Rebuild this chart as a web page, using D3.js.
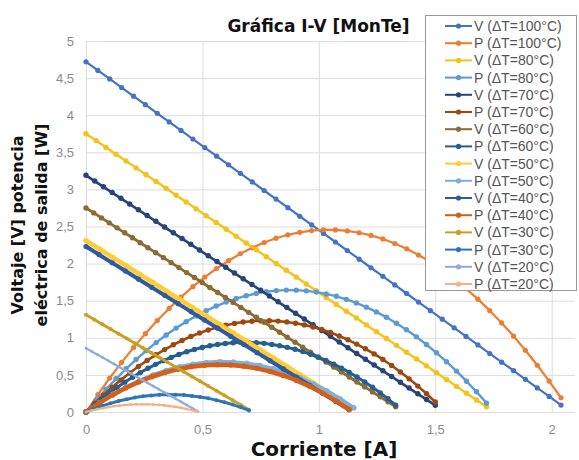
<!DOCTYPE html>
<html><head><meta charset="utf-8">
<script src="https://cdn.jsdelivr.net/npm/d3@7/dist/d3.min.js"></script>
<style>body{margin:0;background:#fff}svg{display:block}</style>
</head><body>
<svg id="chart" width="579" height="460"></svg>
<script>
// ---------- DATA ----------
const I100=[0,0.051,0.102,0.153,0.204,0.255,0.306,0.357,0.408,0.459,0.510,0.561,0.612,0.663,0.714,0.765,0.816,0.867,0.918,0.969,1.020,1.071,1.122,1.173,1.224,1.275,1.326,1.377,1.428,1.479,1.530,1.581,1.632,1.683,1.734,1.785,1.836,1.887,1.938,1.989,2.040];
const V100=[4.720,4.604,4.489,4.373,4.257,4.142,4.026,3.910,3.795,3.679,3.564,3.448,3.332,3.217,3.101,2.985,2.870,2.754,2.638,2.523,2.407,2.291,2.176,2.060,1.944,1.829,1.713,1.597,1.482,1.366,1.251,1.135,1.019,0.904,0.788,0.672,0.557,0.441,0.325,0.210,0.094];
const P100=[0,0.235,0.458,0.669,0.868,1.056,1.232,1.396,1.548,1.689,1.818,1.934,2.039,2.133,2.214,2.284,2.342,2.388,2.422,2.445,2.455,2.454,2.441,2.416,2.380,2.332,2.271,2.200,2.116,2.021,1.914,1.794,1.663,1.521,1.366,1.200,1.023,0.832,0.630,0.417,0.192];

const I80=[0,0.043,0.086,0.129,0.172,0.215,0.258,0.301,0.344,0.387,0.430,0.473,0.516,0.559,0.602,0.645,0.688,0.731,0.774,0.817,0.860,0.903,0.946,0.989,1.032,1.075,1.118,1.161,1.204,1.247,1.290,1.333,1.376,1.419,1.462,1.505,1.548,1.591,1.634,1.677,1.720];
const V80=[3.750,3.658,3.566,3.474,3.382,3.290,3.198,3.106,3.014,2.922,2.830,2.738,2.646,2.554,2.462,2.370,2.278,2.186,2.094,2.002,1.910,1.818,1.726,1.634,1.542,1.450,1.358,1.266,1.174,1.082,0.990,0.898,0.806,0.714,0.622,0.530,0.438,0.346,0.254,0.162,0.070];
const P80=[0,0.157,0.307,0.448,0.582,0.707,0.825,0.935,1.037,1.131,1.217,1.295,1.365,1.428,1.482,1.529,1.567,1.598,1.621,1.636,1.643,1.642,1.633,1.616,1.591,1.559,1.518,1.470,1.413,1.349,1.277,1.197,1.109,1.013,0.909,0.798,0.678,0.551,0.415,0.272,0.120];

const I70=[0,0.0375,0.075,0.1125,0.150,0.1875,0.225,0.2625,0.300,0.3375,0.375,0.4125,0.450,0.4875,0.525,0.5625,0.600,0.6375,0.675,0.7125,0.750,0.7875,0.825,0.8625,0.900,0.9375,0.975,1.0125,1.050,1.0875,1.125,1.1625,1.200,1.2375,1.275,1.3125,1.350,1.3875,1.425,1.4625,1.500];
const V70=[3.190,3.1125,3.035,2.9575,2.880,2.8025,2.725,2.6475,2.570,2.4925,2.415,2.3375,2.260,2.1825,2.105,2.0275,1.950,1.8725,1.795,1.7175,1.640,1.5625,1.485,1.4075,1.330,1.2525,1.175,1.0975,1.020,0.9425,0.865,0.7875,0.710,0.6325,0.555,0.4775,0.400,0.3225,0.245,0.1675,0.090];
const P70=[0,0.117,0.228,0.333,0.432,0.525,0.613,0.695,0.771,0.841,0.906,0.964,1.017,1.064,1.105,1.140,1.170,1.194,1.212,1.224,1.230,1.230,1.225,1.214,1.197,1.174,1.146,1.111,1.071,1.025,0.973,0.915,0.852,0.783,0.708,0.627,0.540,0.447,0.349,0.245,0.135];

const I60=[0,0.0333,0.0665,0.0998,0.133,0.1663,0.1995,0.2328,0.266,0.2993,0.3325,0.3658,0.399,0.4323,0.4655,0.4988,0.532,0.5653,0.5985,0.6318,0.665,0.6983,0.7315,0.7648,0.798,0.8313,0.8645,0.8978,0.931,0.9643,0.9975,1.0308,1.064,1.0973,1.1305,1.1638,1.197,1.2303,1.2635,1.2968,1.330];
const V60=[2.750,2.683,2.616,2.549,2.482,2.415,2.348,2.281,2.214,2.147,2.080,2.013,1.946,1.879,1.812,1.745,1.678,1.611,1.544,1.477,1.410,1.343,1.276,1.209,1.142,1.075,1.008,0.941,0.874,0.807,0.740,0.673,0.606,0.539,0.472,0.405,0.338,0.271,0.204,0.137,0.070];
const P60=[0,0.089,0.174,0.254,0.330,0.401,0.468,0.531,0.589,0.642,0.692,0.736,0.776,0.812,0.843,0.870,0.893,0.911,0.924,0.933,0.938,0.938,0.933,0.925,0.911,0.894,0.871,0.845,0.814,0.778,0.738,0.694,0.645,0.591,0.534,0.471,0.405,0.333,0.258,0.178,0.093];

const I50=[0,0.0575,0.115,0.1725,0.230,0.2875,0.345,0.4025,0.460,0.5175,0.575,0.6325,0.690,0.7475,0.805,0.8625,0.920,0.9775,1.035,1.0925,1.150];
const V50=[2.310,2.197,2.084,1.971,1.858,1.745,1.632,1.519,1.406,1.293,1.180,1.067,0.954,0.841,0.728,0.615,0.502,0.389,0.276,0.163,0.050];
const P50=[0,0.126,0.240,0.340,0.427,0.502,0.563,0.611,0.647,0.669,0.679,0.675,0.658,0.629,0.586,0.530,0.462,0.380,0.286,0.178,0.058];

const I40=[0,0.0565,0.113,0.1695,0.226,0.2825,0.339,0.3955,0.452,0.5085,0.565,0.6215,0.678,0.7345,0.791,0.8475,0.904,0.9605,1.017,1.0735,1.130];
const V40=[2.23,2.12,2.01,1.90,1.79,1.68,1.57,1.46,1.35,1.24,1.13,1.02,0.91,0.80,0.69,0.58,0.47,0.36,0.25,0.14,0.03];
const P40=[0,0.120,0.227,0.322,0.405,0.475,0.532,0.577,0.610,0.631,0.638,0.634,0.617,0.588,0.546,0.492,0.425,0.346,0.254,0.150,0.034];

const I30=[0,0.035,0.070,0.105,0.140,0.175,0.210,0.245,0.280,0.315,0.350,0.385,0.420,0.455,0.490,0.525,0.560,0.595,0.630,0.665,0.700];
const V30=[1.310,1.246,1.182,1.118,1.054,0.990,0.926,0.862,0.798,0.734,0.670,0.606,0.542,0.478,0.414,0.350,0.286,0.222,0.158,0.094,0.030];
const P30=[0,0.044,0.083,0.117,0.148,0.173,0.194,0.211,0.223,0.231,0.235,0.233,0.228,0.217,0.203,0.184,0.160,0.132,0.100,0.063,0.021];

const I20=[0,0.024,0.048,0.072,0.096,0.120,0.144,0.168,0.192,0.216,0.240,0.264,0.288,0.312,0.336,0.360,0.384,0.408,0.432,0.456,0.480];
const V20=[0.860,0.8175,0.775,0.7325,0.690,0.6475,0.605,0.5625,0.520,0.4775,0.435,0.3925,0.350,0.3075,0.265,0.2225,0.180,0.1375,0.095,0.0525,0.010];
const P20=[0,0.020,0.037,0.053,0.066,0.078,0.087,0.095,0.100,0.103,0.104,0.104,0.101,0.096,0.089,0.080,0.069,0.056,0.041,0.024,0.005];

const seriesLabels=["V (ΔT=100°C)","P (ΔT=100°C)","V (ΔT=80°C)","P (ΔT=80°C)","V (ΔT=70°C)","P (ΔT=70°C)","V (ΔT=60°C)","P (ΔT=60°C)","V (ΔT=50°C)","P (ΔT=50°C)","V (ΔT=40°C)","P (ΔT=40°C)","V (ΔT=30°C)","P (ΔT=30°C)","V (ΔT=20°C)","P (ΔT=20°C)"];
const xTickValues=[0,0.5,1,1.5,2];
const xTickLabels=["0","0,5","1","1,5","2"];
const yTickValues=[0,0.5,1,1.5,2,2.5,3,3.5,4,4.5,5];
const yTickLabels=["0","0,5","1","1,5","2","2,5","3","3,5","4","4,5","5"];
const titleText="Gráfica I-V [MonTe]";
const xTitle="Corriente [A]";
const yTitle=["Voltaje [V] potencia","eléctrica de salida [W]"];

// ---------- series table ----------
const seriesXY=[[I100,V100],[I100,P100],[I80,V80],[I80,P80],[I70,V70],[I70,P70],[I60,V60],[I60,P60],
                [I50,V50],[I50,P50],[I40,V40],[I40,P40],[I30,V30],[I30,P30],[I20,V20],[I20,P20]];
// styles: colour, line width, marker radius
const styles=[
 {c:"#4472C4",w:2.2,r:2.6},{c:"#ED7D31",w:2.2,r:2.6},{c:"#F5C21B",w:2.4,r:2.7},{c:"#5B9BD5",w:2.4,r:2.7},
 {c:"#264478",w:2.6,r:2.7},{c:"#9E480E",w:2.6,r:2.7},{c:"#8B6C35",w:2.8,r:2.7},{c:"#255E91",w:3,r:2.7},
 {c:"#FFCD33",w:4.5,r:2.7},{c:"#7CAFDD",w:3.5,r:2.6},{c:"#2F5AA3",w:4,r:2.6},{c:"#D2601A",w:4.5,r:2.7},
 {c:"#C9A020",w:3,r:2},{c:"#2E75B6",w:3,r:2},{c:"#8FAADC",w:2.2,r:1.4},{c:"#F4B183",w:2.2,r:1.4}
];

const svg=d3.select("#chart");
svg.append("rect").attr("width",579).attr("height",460).attr("fill","#fff");

const x=d3.scaleLinear().domain([0,2.1]).range([86,575]);
const y=d3.scaleLinear().domain([0,5]).range([412,41]);

// grid + axes
const gx=svg.append("g").attr("transform","translate(0,"+y(0)+")")
  .call(d3.axisBottom(x).tickValues(xTickValues).tickFormat((d,i)=>xTickLabels[i]).tickSize(-(y(0)-y(5))).tickPadding(13));
const gy=svg.append("g").attr("transform","translate("+x(0)+",0)")
  .call(d3.axisLeft(y).tickValues(yTickValues).tickFormat((d,i)=>yTickLabels[i]).tickSize(-(x(2.1)-x(0))).tickPadding(12));
[gx,gy].forEach(g=>{
  g.select(".domain").remove();
  g.selectAll(".tick line").attr("stroke","#dcdcdc").attr("stroke-width",1);
  g.selectAll(".tick text").attr("fill","#8a8a8a").style("font-family","Liberation Sans, Arial, sans-serif").style("font-size","13px");
});

// series
const line=d3.line().x(d=>x(d[0])).y(d=>y(d[1]));
seriesXY.forEach((s,k)=>{
  const pts=s[0].map((v,i)=>[v,s[1][i]]);
  const st=styles[k];
  const g=svg.append("g");
  g.append("path").attr("d",line(pts)).attr("fill","none").attr("stroke",st.c).attr("stroke-width",st.w).attr("stroke-linejoin","round").attr("stroke-linecap","round");
  g.selectAll("circle").data(pts).enter().append("circle").attr("cx",d=>x(d[0])).attr("cy",d=>y(d[1])).attr("r",st.r).attr("fill",st.c);
});

// title
svg.append("text").attr("x",318.5).attr("y",31.5).attr("text-anchor","middle")
  .style("font-family","DejaVu Sans, sans-serif").style("font-weight","bold").style("font-size","17px").attr("fill","#111").text(titleText);
// x title
svg.append("text").attr("x",324).attr("y",456).attr("text-anchor","middle")
  .style("font-family","DejaVu Sans, sans-serif").style("font-weight","bold").style("font-size","20px").attr("fill","#111").text(xTitle);
// y title
yTitle.forEach((t,i)=>{
  svg.append("text").attr("transform","translate("+(23+i*24)+",225) rotate(-90)").attr("text-anchor","middle")
    .style("font-family","DejaVu Sans, sans-serif").style("font-weight","bold").style("font-size","16px").attr("fill","#111").text(t);
});

// legend
const lg=svg.append("g");
lg.append("rect").attr("x",425.5).attr("y",15.5).attr("width",151).attr("height",275).attr("fill","#fff").attr("stroke","#9a9a9a").attr("stroke-width",1);
seriesLabels.forEach((lab,i)=>{
  const yy=26+i*17.2, st=styles[i];
  lg.append("line").attr("x1",445).attr("x2",472).attr("y1",yy).attr("y2",yy).attr("stroke",st.c).attr("stroke-width",2);
  lg.append("circle").attr("cx",458.5).attr("cy",yy).attr("r",2.6).attr("fill",st.c);
  lg.append("text").attr("x",474).attr("y",yy).attr("dy","0.36em").style("font-family","Liberation Sans, Arial, sans-serif").style("font-size","14px").attr("fill","#555").text(lab);
});
</script>
</body></html>
